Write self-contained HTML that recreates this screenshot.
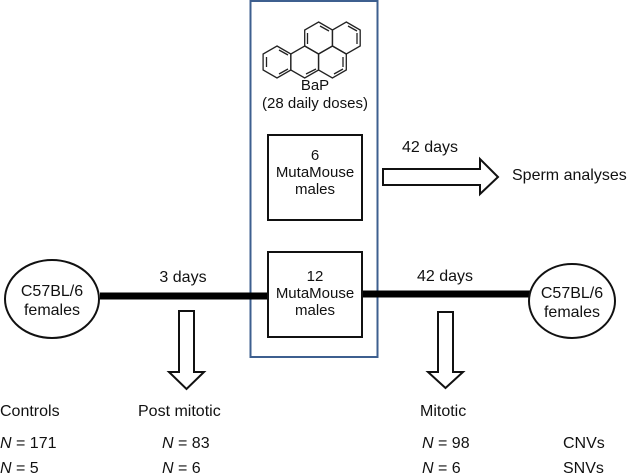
<!DOCTYPE html>
<html><head><meta charset="utf-8"><style>
html,body{margin:0;padding:0;background:#fff;}
svg{display:block;}
text{font-family:"Liberation Sans",Arial,sans-serif;fill:#111;}
</style></head><body>
<svg width="630" height="474" viewBox="0 0 630 474" xmlns="http://www.w3.org/2000/svg">
<rect x="250.5" y="1" width="127" height="356" fill="none" stroke="#3d5f8f" stroke-width="2"/>
<g fill="none" stroke="#222" stroke-width="1.3">
<polygon points="277,46 290.9,54 290.9,70 277,78 263.1,70 263.1,54"/>
<polygon points="304.7,46 318.6,54 318.6,70 304.7,78 290.8,70 290.8,54"/>
<polygon points="332.4,46 346.3,54 346.3,70 332.4,78 318.5,70 318.5,54"/>
<polygon points="318.6,22 332.5,30 332.5,46 318.6,54 304.7,46 304.7,30"/>
<polygon points="346.3,22 360.2,30 360.2,46 346.3,54 332.4,46 332.4,30"/>
<line x1="266.5" y1="57" x2="266.5" y2="67"/>
<line x1="279" y1="74" x2="288" y2="69"/>
<line x1="279" y1="50" x2="288" y2="55"/>
<line x1="307.5" y1="33" x2="307.5" y2="44"/>
<line x1="320" y1="26" x2="329" y2="31"/>
<line x1="348" y1="26" x2="357" y2="31"/>
<line x1="357" y1="33" x2="357" y2="44"/>
<line x1="334" y1="74" x2="343" y2="69"/>
<line x1="306" y1="74" x2="316" y2="69"/>
<line x1="343" y1="57" x2="343" y2="67"/>
</g>
<text x="315" y="90" font-size="15" text-anchor="middle">BaP</text>
<text x="315" y="108" font-size="15" text-anchor="middle">(28 daily doses)</text>
<g fill="#fff" stroke="#111" stroke-width="2">
<rect x="268" y="135" width="94" height="85"/>
</g>
<text x="315" y="160" font-size="15" text-anchor="middle">6</text>
<text x="315" y="177" font-size="15" text-anchor="middle">MutaMouse</text>
<text x="315" y="194" font-size="15" text-anchor="middle">males</text>
<line x1="100" y1="296" x2="268" y2="296" stroke="#000" stroke-width="7"/>
<line x1="362" y1="294" x2="531" y2="294" stroke="#000" stroke-width="7"/>
<rect x="268" y="252" width="94" height="85" fill="#fff" stroke="#111" stroke-width="2"/>
<text x="315" y="281" font-size="15" text-anchor="middle">12</text>
<text x="315" y="298" font-size="15" text-anchor="middle">MutaMouse</text>
<text x="315" y="315" font-size="15" text-anchor="middle">males</text>
<ellipse cx="52" cy="299" rx="47" ry="39" fill="#fff" stroke="#111" stroke-width="2"/>
<text x="52" y="296" font-size="16" text-anchor="middle">C57BL/6</text>
<text x="52" y="315" font-size="16" text-anchor="middle">females</text>
<ellipse cx="572" cy="301" rx="43" ry="37" fill="#fff" stroke="#111" stroke-width="2"/>
<text x="572" y="298" font-size="16" text-anchor="middle">C57BL/6</text>
<text x="572" y="317" font-size="16" text-anchor="middle">females</text>
<text x="183" y="282" font-size="16" text-anchor="middle">3 days</text>
<text x="445" y="281" font-size="16" text-anchor="middle">42 days</text>
<text x="430" y="152" font-size="16" text-anchor="middle">42 days</text>
<text x="512" y="180" font-size="16">Sperm analyses</text>
<g fill="#fff" stroke="#111" stroke-width="2" stroke-linejoin="miter">
<polygon points="383,169 480,169 480,159 498,177 480,194 480,185 383,185"/>
<polygon points="179,311 194,311 194,372 204,372 186.5,389 169,372 179,372"/>
<polygon points="438,312 453,312 453,372 463,372 445.5,388 428,372 438,372"/>
</g>
<text x="0" y="416" font-size="16">Controls</text>
<text x="138" y="416" font-size="16">Post mitotic</text>
<text x="420" y="416" font-size="16">Mitotic</text>
<text x="0" y="448" font-size="16"><tspan font-style="italic">N</tspan> = 171</text>
<text x="162" y="448" font-size="16"><tspan font-style="italic">N</tspan> = 83</text>
<text x="422" y="448" font-size="16"><tspan font-style="italic">N</tspan> = 98</text>
<text x="563" y="448" font-size="16">CNVs</text>
<text x="0" y="473" font-size="16"><tspan font-style="italic">N</tspan> = 5</text>
<text x="162" y="473" font-size="16"><tspan font-style="italic">N</tspan> = 6</text>
<text x="422" y="473" font-size="16"><tspan font-style="italic">N</tspan> = 6</text>
<text x="563" y="473" font-size="16">SNVs</text>
</svg>
</body></html>
